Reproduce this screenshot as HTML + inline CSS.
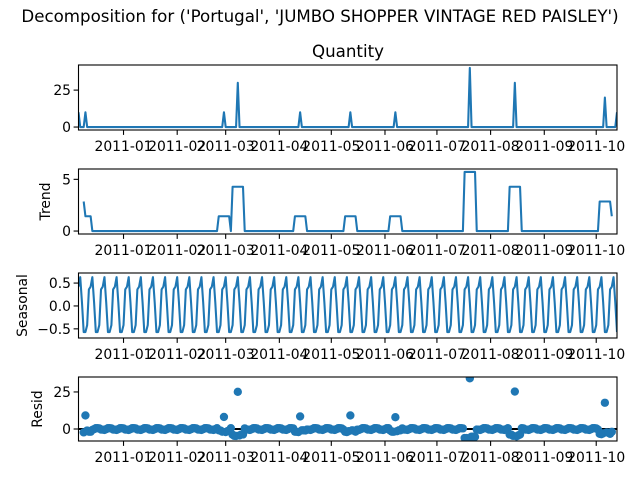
<!DOCTYPE html>
<html><head><meta charset="utf-8"><style>
html,body{margin:0;padding:0;background:#fff;}
svg{display:block;font-family:"DejaVu Sans","Liberation Sans",sans-serif;}
</style></head><body>
<svg id="fig" width="640" height="480" viewBox="0 0 640 480" xmlns="http://www.w3.org/2000/svg">
<text x="320" y="22" font-size="16.67" text-anchor="middle">Decomposition for ('Portugal', 'JUMBO SHOPPER VINTAGE RED PAISLEY')</text>
<text x="348" y="57" font-size="16.67" text-anchor="middle">Quantity</text>
</svg>
<script>
// ---- data ----
const startDate = "2010-12-06";
const numDays = 312;
const spikeDays = [0, 4, 84, 92, 128, 157, 183, 226, 252, 304, 311];
const spikeValues = [10, 10, 10, 30, 10, 10, 10, 40, 30, 20, 10];
const seasonalPattern = [0.42, 0.63, 0.08, -0.57, -0.57, -0.42, 0.36];
const xTickLabels = ["2011-01","2011-02","2011-03","2011-04","2011-05","2011-06","2011-07","2011-08","2011-09","2011-10"];
const observedTicks = [0, 25];
const trendTicks = [0, 5];
const seasonalTicks = [-0.5, 0, 0.5];
const residTicks = [0, 25];

// derived series
const observed = new Array(numDays).fill(0);
spikeDays.forEach((d,i)=>{observed[d]=spikeValues[i];});
const trend = observed.map((v,i)=>{
  if(i<3||i>numDays-4) return null;
  let s=0; for(let k=i-3;k<=i+3;k++) s+=observed[k]; return s/7;
});
const seasonal = observed.map((v,i)=>seasonalPattern[i%7]);
const resid = observed.map((v,i)=>trend[i]===null?null:v-trend[i]-seasonal[i]);

const NS="http://www.w3.org/2000/svg";
const svg=document.getElementById('fig');
const X0=78.5, X1=617;
const dayMs=86400000;
const t0=Date.parse(startDate+"T00:00:00Z");
function xs(day){return X0+(X1-X0)*day/(numDays-1);}
function el(tag,attrs,parent){const e=document.createElementNS(NS,tag);for(const k in attrs)e.setAttribute(k,attrs[k]);(parent||svg).appendChild(e);return e;}
const C="#1f77b4";

const panels=[
 {key:"observed",data:observed,top:65,bot:130,ymin:-2.0,ymax:42.0,ticks:observedTicks,dec:0,label:null,lx:0,type:"line"},
 {key:"trend",data:trend,top:169,bot:234,ymin:-0.286,ymax:6.0,ticks:trendTicks,dec:0,label:"Trend",lx:50,type:"line"},
 {key:"seasonal",data:seasonal,top:273,bot:338,ymin:-0.70,ymax:0.72,ticks:seasonalTicks,dec:1,label:"Seasonal",lx:27,type:"line"},
 {key:"resid",data:resid,top:377,bot:441,ymin:-8.1,ymax:35.1,ticks:residTicks,dec:0,label:"Resid",lx:42,type:"dots"}
];

panels.forEach(p=>{
  const g=el('g',{});
  
  
  const ys=v=>p.bot-(p.bot-p.top)*(v-p.ymin)/(p.ymax-p.ymin);
  const clipId='clip-'+p.key;
  const cp=el('clipPath',{id:clipId},g);
  el('rect',{x:X0,y:p.top,width:X1-X0,height:p.bot-p.top},cp);
  if(p.type==="line"){
    let d="",pen=false;
    p.data.forEach((v,i)=>{
      if(v===null){pen=false;return;}
      d+=(pen?"L":"M")+xs(i).toFixed(2)+","+ys(v).toFixed(2);pen=true;
    });
    const path=el('path',{d:d,fill:"none",stroke:C,"stroke-width":2.08,"stroke-linejoin":"round","clip-path":"url(#"+clipId+")"},g);
    
    
  } else {
    const zl=el('line',{x1:X0,x2:X1,y1:ys(0),y2:ys(0),stroke:"#000","stroke-width":2.08},g);
    
    
    p.data.forEach((v,i)=>{
      if(v===null) return;
      const c=el('circle',{cx:xs(i).toFixed(2),cy:ys(v).toFixed(2),r:4.17,fill:C,"clip-path":"url(#"+clipId+")"},g);
      
      
    });
  }
  const fr=el('rect',{x:X0,y:p.top,width:X1-X0,height:p.bot-p.top,fill:"none",stroke:"#000","stroke-width":1.1},g);
  
  
  p.ticks.forEach(t=>{
    const y=ys(t);
    el('line',{x1:X0-4.9,x2:X0,y1:y,y2:y,stroke:"#000","stroke-width":1.1},g);
    const tx=el('text',{x:X0-7.5,y:y+5,"font-size":13.9,"text-anchor":"end"},g);
    tx.textContent=t.toFixed(p.dec).replace('-','\u2212');
    
    
  });
  xTickLabels.forEach(lbl=>{
    const day=(Date.parse(lbl+"-01T00:00:00Z")-t0)/dayMs;
    const x=xs(day);
    el('line',{x1:x,x2:x,y1:p.bot,y2:p.bot+4.9,stroke:"#000","stroke-width":1.1},g);
    const tx=el('text',{x:x,y:p.bot+21,"font-size":13.9,"text-anchor":"middle"},g);
    tx.textContent=lbl;
    
    
  });
  if(p.label){
    const cy=(p.top+p.bot)/2;
    const lt=el('text',{x:0,y:0,"font-size":13.9,"text-anchor":"middle",transform:"translate("+p.lx+","+cy+") rotate(-90)"},g);
    lt.textContent=p.label;
    
    
  }
});
</script>
</body></html>
